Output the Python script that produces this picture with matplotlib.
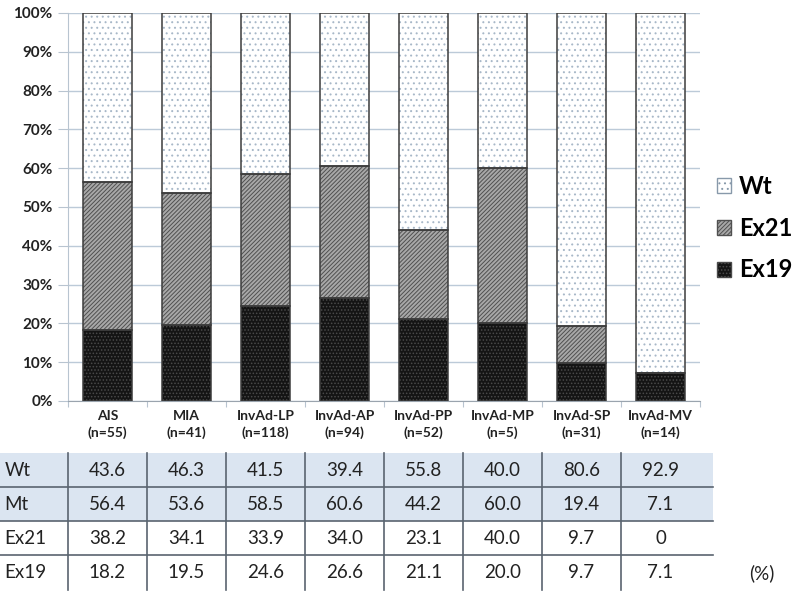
import matplotlib
matplotlib.use("Agg")
import matplotlib.pyplot as plt
from matplotlib.patches import Patch, Rectangle
from matplotlib.transforms import blended_transform_factory
import numpy as np

plt.rcParams['font.family'] = ['Lato', 'DejaVu Sans']
plt.rcParams['hatch.linewidth'] = 0.7

categories = ["AIS\n(n=55)", "MIA\n(n=41)", "InvAd-LP\n(n=118)", "InvAd-AP\n(n=94)",
              "InvAd-PP\n(n=52)", "InvAd-MP\n(n=5)", "InvAd-SP\n(n=31)", "InvAd-MV\n(n=14)"]
wt = [43.6, 46.3, 41.5, 39.4, 55.8, 40.0, 80.6, 92.9]
mt = [56.4, 53.6, 58.5, 60.6, 44.2, 60.0, 19.4, 7.1]
ex21 = [38.2, 34.1, 33.9, 34.0, 23.1, 40.0, 9.7, 0]
ex19 = [18.2, 19.5, 24.6, 26.6, 21.1, 20.0, 9.7, 7.1]
ex21_txt = ["38.2", "34.1", "33.9", "34.0", "23.1", "40.0", "9.7", "0"]
row_labels = ["Wt", "Mt", "Ex21", "Ex19"]
yticks = [0, 10, 20, 30, 40, 50, 60, 70, 80, 90, 100]

W, H = 800, 592
fig = plt.figure(figsize=(8, 5.92), dpi=100)
ax = fig.add_axes([68 / W, 1 - 401 / H, (700 - 68) / W, (401 - 13) / H])

x = np.arange(len(categories))
bw = 0.62
ex19a = np.array(ex19)
ex21a = np.array(ex21)
wta = np.array(wt)

series = [
    (ex19a, np.zeros(len(x)), '#141414', '#4a4a4a', '.....', 'Ex19'),
    (ex21a, ex19a, '#a8a8a8', '#505050', '////////', 'Ex21'),
    (wta, ex19a + ex21a, 'white', '#a8b8c8', '...', 'Wt'),
]
for vals, bottom, fc, hc, hatch, lab in series:
    ax.bar(x, vals, bw, bottom=bottom, color=fc, edgecolor=hc, hatch=hatch, linewidth=0, zorder=2)
    ax.bar(x, vals, bw, bottom=bottom, fill=False, edgecolor='#3c3c3c', linewidth=1.1, zorder=3)

ax.set_xlim(-0.5, 7.5)
ax.set_ylim(0, 100)
ax.set_yticks(yticks)
ax.set_yticklabels([f"{v}%" for v in yticks], fontsize=11, fontweight='bold', color='#222222')
ax.set_xticks(np.arange(-0.5, 8.0, 1.0))
ax.set_xticklabels([])
ax.tick_params(axis='y', length=7, color='#b8c4d0', pad=4)
ax.tick_params(axis='x', length=4, color='#b8c4d0')
for yv in yticks:
    ax.axhline(yv, color='#bccad8', linewidth=1, zorder=0)
for s in ['top', 'right']:
    ax.spines[s].set_visible(False)
ax.spines['left'].set_color('#b8c4d0')
ax.spines['bottom'].set_color('#9aa4ae')

for i, c in enumerate(categories):
    ax.text(i, -2.4, c, ha='center', va='top', fontsize=10, fontweight='bold',
            color='#222222', linespacing=1.4)

# legend
handles = [Patch(facecolor='white', edgecolor='#8899aa', hatch='...', linewidth=1),
           Patch(facecolor='#a8a8a8', edgecolor='#505050', hatch='////////', linewidth=1),
           Patch(facecolor='#141414', edgecolor='#4a4a4a', hatch='.....', linewidth=1)]
leg = fig.legend(handles, ['Wt', 'Ex21', 'Ex19'], loc='center left',
                 bbox_to_anchor=(712 / W, 1 - 228 / H), frameon=False,
                 prop={'weight': 'bold', 'size': 17}, handlelength=0.6, handleheight=0.6,
                 handletextpad=0.35, labelspacing=0.8, borderaxespad=0, borderpad=0.2)

# table (x in main-axes data coords, y in figure coords)
tr = blended_transform_factory(ax.transData, fig.transFigure)
unit_px = (700 - 68) / 8.0
x_left = -0.5 - 68 / unit_px
x_right = -0.5 + (713 - 68) / unit_px
row_edges_px = [453, 487, 521, 555, 590]
row_y = [1 - p / H for p in row_edges_px]
table_vals = [[f"{v:.1f}" for v in wt], [f"{v:.1f}" for v in mt], ex21_txt,
              [f"{v:.1f}" for v in ex19]]
for r in range(2):
    fig.patches.append(Rectangle((x_left, row_y[r + 1]), x_right - x_left, row_y[r] - row_y[r + 1],
                                 transform=tr, facecolor='#dbe5f1', edgecolor='none', zorder=0))
for r in range(1, 4):
    fig.lines.append(plt.Line2D([x_left, x_right], [row_y[r], row_y[r]], transform=tr,
                                color='#5a6470', linewidth=1.2))
for xv in np.arange(-0.5, 7.0, 1.0):
    fig.lines.append(plt.Line2D([xv, xv], [row_y[0], row_y[-1]], transform=tr,
                                color='#5a6470', linewidth=1.2))
for r in range(4):
    yc = (row_y[r] + row_y[r + 1]) / 2
    fig.text(x_left + 0.06, yc, row_labels[r], transform=tr, ha='left', va='center',
             fontsize=13.5, color='#222222')
    for i in range(8):
        fig.text(i, yc, table_vals[r][i], transform=tr, ha='center', va='center',
                 fontsize=13.5, color='#222222')
fig.text(762 / W, 1 - 573 / H, "(%)", ha='center', va='center', fontsize=13.5, color='#222222')

fig.savefig("out.png", dpi=100)
